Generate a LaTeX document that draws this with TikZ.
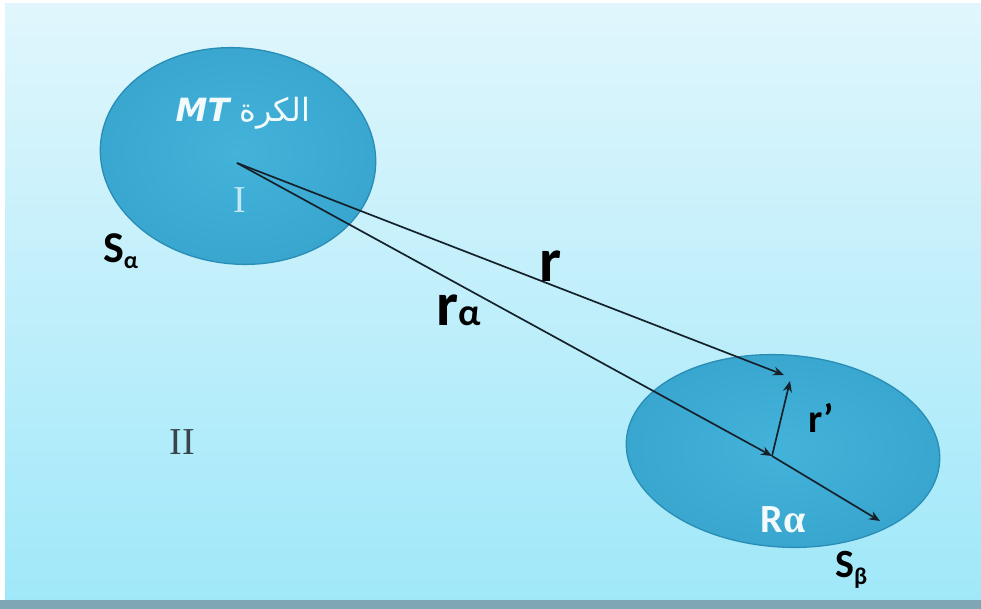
\documentclass[tikz,border=0pt]{standalone}
\usepackage{fontspec}
\setmainfont{Carlito}
\newfontfamily\seriffont{Liberation Serif}
\newfontfamily\arabicfont[Script=Arabic]{DejaVu Sans}
\TeXXeTstate=1
\usetikzlibrary{shapes.geometric,arrows.meta}
\definecolor{bgtop}{HTML}{E0F6FC}
\definecolor{bgbot}{HTML}{A0E8F9}
\definecolor{barcol}{HTML}{7FA6B4}
\definecolor{ballin}{HTML}{44B3DA}
\definecolor{ballout}{HTML}{38A6CF}
\definecolor{balledge}{HTML}{2A8DB5}
\definecolor{arrowcol}{HTML}{15222C}
\definecolor{softwhite}{HTML}{F2FAFC}
\tikzset{
  ball/.style={ellipse, draw=balledge, line width=1.3pt, inner color=ballin, outer color=ballout, inner sep=0pt},
  vec/.style={draw=arrowcol, line width=1.7pt, -{Stealth[length=11pt,width=9pt]}},
  lab/.style={text=black, inner sep=0pt},
}
\begin{document}
\begin{tikzpicture}[x=1pt,y=-1pt]
\useasboundingbox (0,0) rectangle (981,609);
\fill[white] (0,0) rectangle (981,609);
\shade[top color=bgtop, bottom color=bgbot] (5,4) rectangle (981,600);
\fill[barcol] (0,600) rectangle (981,609);
% spheres
\node[ball, minimum width=276pt, minimum height=216pt, rotate=-6] (s1) at (238,156) {};
\node[ball, minimum width=314pt, minimum height=192pt, rotate=-4] (s2) at (783,451) {};
% points
\coordinate (I) at (237,163);
\coordinate (A) at (784,375);
\coordinate (B) at (772,456);
\coordinate (C) at (880,521);
\coordinate (D) at (790,381);
% vectors
\draw[vec] (I) -- (A);
\draw[vec] (I) -- (B);
\draw[vec] (B) -- (C);
\draw[vec] (B) -- (D);
% labels
\node[text=softwhite, inner sep=0pt, font=\fontsize{32}{32}\selectfont] (title) at (243,113) {\arabicfont\beginR الكرة \beginL\bfseries\itshape MT\endL\endR};
\node[text=softwhite!75!ballin, inner sep=0pt, font=\seriffont\fontsize{38}{38}\selectfont] (lI) at (240,200) {I};
\node[text=arrowcol!85!white, inner sep=0pt, font=\seriffont\fontsize{38}{38}\selectfont] (lII) at (182,442) {II};
\node[lab, anchor=base, font=\fontsize{62}{62}\selectfont\bfseries] (lr) at (551,282) {r};
\node[lab, anchor=base west, font=\bfseries] (lra) at (436,325) {\fontsize{62}{62}\selectfont r\fontsize{38}{38}\selectfont α};
\node[lab, anchor=base west, font=\fontsize{40}{40}\selectfont\bfseries] (lrp) at (808,432) {r’};
\node[inner sep=0pt, text=softwhite, anchor=base, font=\fontsize{40}{40}\selectfont\bfseries] (lR) at (783,532) {R\seriffont α};
\node[lab, anchor=base west, font=\fontsize{44}{44}\selectfont\bfseries] (lSa) at (103,262) {S\raisebox{-6pt}{\fontsize{24}{24}\selectfont α}};
\node[lab, anchor=base west, font=\fontsize{40}{40}\selectfont\bfseries] (lSb) at (835,577) {S\raisebox{-7pt}{\fontsize{24}{24}\selectfont β}};
\end{tikzpicture}
\end{document}
